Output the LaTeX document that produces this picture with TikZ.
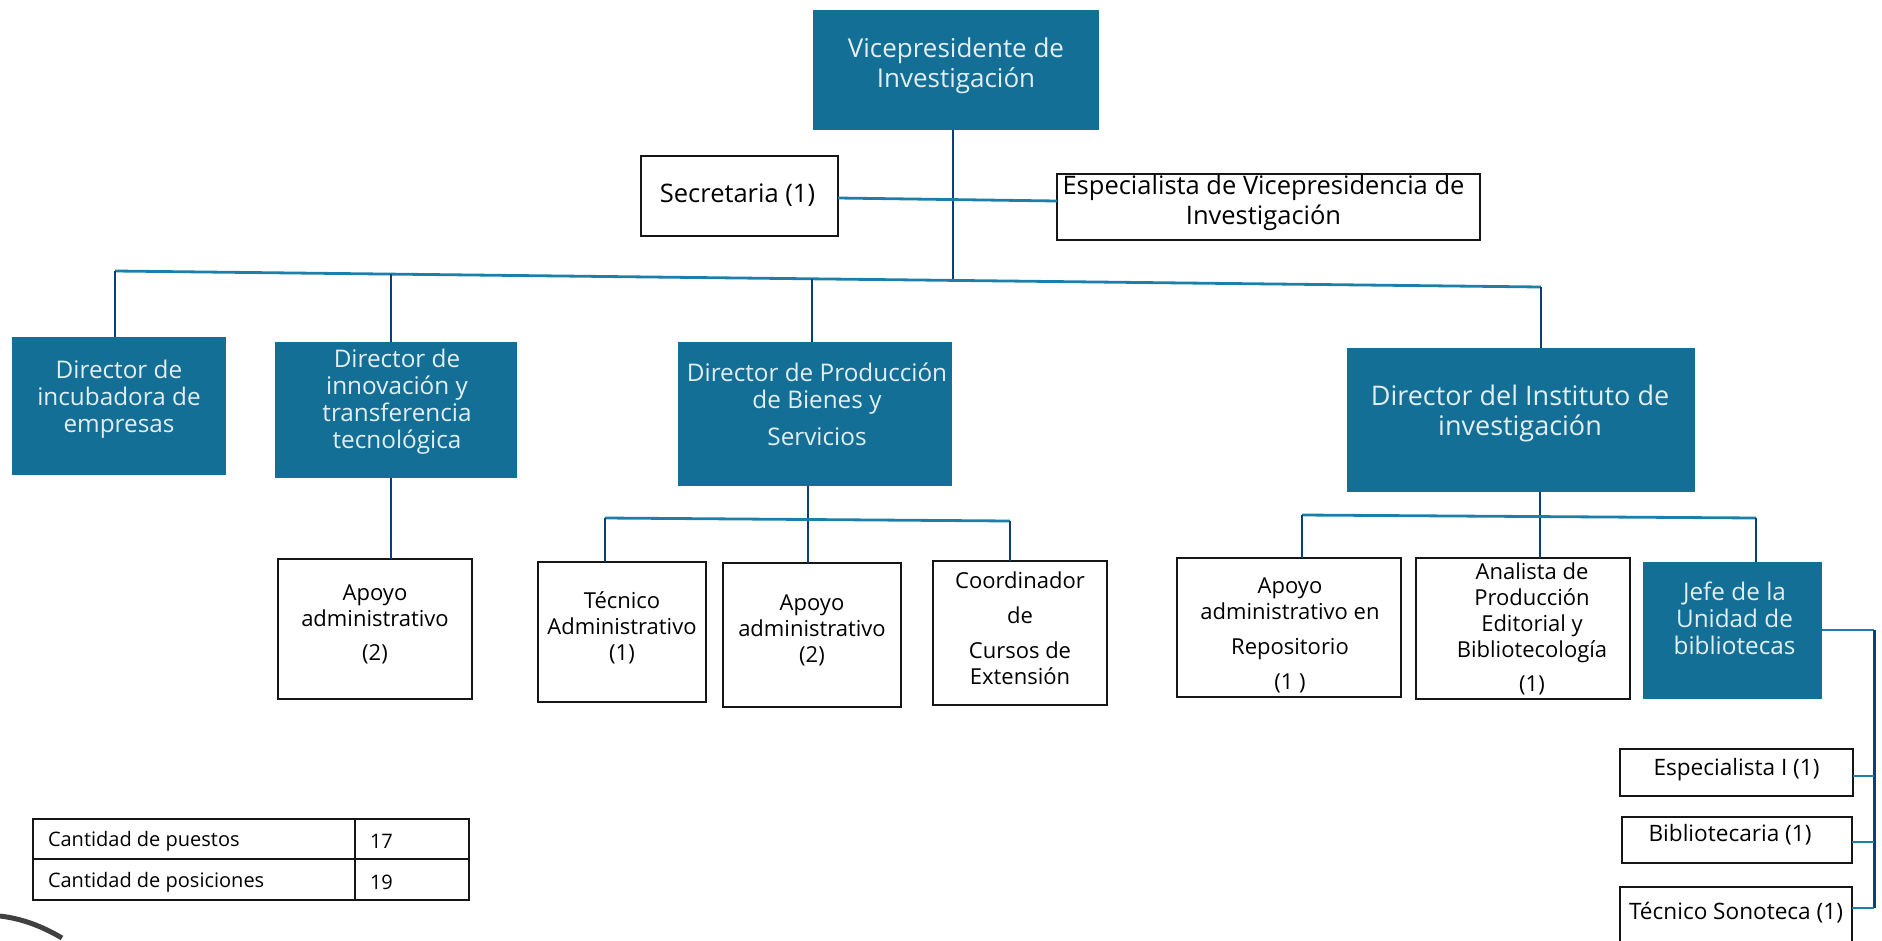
\documentclass[tikz,border=0pt]{standalone}
\usepackage{fontspec}
\setmainfont{Open Sans}
\definecolor{dirblue}{HTML}{136F95}
\definecolor{dirtext}{HTML}{E3EEF3}
\definecolor{navyline}{HTML}{0B3F7A}
\definecolor{tealline}{HTML}{1C7FAA}
\definecolor{inkline}{HTML}{161616}
% #1 = raise, #2 = shift right, #3 = lines
\newcommand{\up}[3]{\hspace*{#2pt}\raisebox{#1pt}[\height][\depth]{\begin{tabular}{@{}c@{}}#3\end{tabular}}\hspace*{-#2pt}}
\newcommand{\cell}[2]{\makebox[#1pt][l]{\hspace*{15pt}\raisebox{-2.5pt}[\height][\depth]{#2}}}
\newcommand{\putbox}[7]{%
  \pgfmathsetmacro{\cxx}{(#3+#5)/2}\pgfmathsetmacro{\cyy}{(#4+#6)/2}%
  \pgfmathsetmacro{\wdd}{#5-#3}\pgfmathsetmacro{\htt}{#6-#4}%
  \node[#2,minimum width=\wdd pt,minimum height=\htt pt] (#1) at (\cxx,\cyy) {#7};}
\tikzset{
  dirbox/.style={fill=dirblue,text=dirtext,inner sep=0pt,outer sep=0pt,font=\fontsize{24.3}{27}\selectfont},
  bigdir/.style={dirbox,font=\fontsize{26}{30}\selectfont},
  hugedir/.style={dirbox,font=\fontsize{27}{30}\selectfont},
  plainbox/.style={draw=inkline,line width=2.8pt,fill=white,inner sep=0pt,outer sep=0pt,font=\fontsize{22}{26}\selectfont},
  widebox/.style={plainbox,font=\fontsize{25.5}{30}\selectfont},
  smallbox/.style={plainbox,font=\fontsize{22.6}{26}\selectfont},
  cellbox/.style={draw=inkline,line width=2pt,inner sep=0pt,outer sep=0pt,font=\fontsize{20}{24}\selectfont},
  vline/.style={draw=navyline,line width=2.4pt},
  hline/.style={draw=tealline,line width=2.8pt},
}
\begin{document}
\begin{tikzpicture}[x=1pt,y=-1pt]
\useasboundingbox (0,0) rectangle (1882,940);
\coordinate (busL) at (115,271);
\coordinate (busR) at (1541,287);
\coordinate (busA) at (391,274);
\coordinate (busB) at (812,279);
\coordinate (busC) at (953,280.5);
\coordinate (sideL) at (838,198);
\coordinate (sideR) at (1057,201);
\coordinate (prodL) at (605,518);
\coordinate (prodM) at (808,519);
\coordinate (prodR) at (1010,521);
\coordinate (instL) at (1302,515);
\coordinate (instM) at (1540,516);
\coordinate (instR) at (1756,518);
\coordinate (spineT) at (1874,630);
\coordinate (spineA) at (1874,776);
\coordinate (spineB) at (1874,842);
\coordinate (spineC) at (1874,908);
\coordinate (stampA) at (0,916);
\coordinate (stampB) at (62,938);
% boxes
\putbox{vp}{bigdir}{813}{10}{1099}{130}{\up{3.5}{0}{Vicepresidente de\\Investigación}}
\putbox{secr}{widebox}{641}{156}{838}{236}{\up{0}{-2}{Secretaria (1)}}
\putbox{espv}{widebox}{1057}{174}{1480}{240}{\up{3.5}{-5}{Especialista de Vicepresidencia de\\Investigación}}
\putbox{inc}{dirbox}{12}{337}{226}{475}{\up{6}{0}{Director de\\incubadora de\\empresas}}
\putbox{innov}{dirbox}{275}{342}{517}{478}{\up{7}{1}{Director de\\innovación y\\transferencia\\tecnológica}}
\putbox{prod}{dirbox}{678}{342}{952}{486}{\up{6}{2}{Director de Producción\\de Bienes y\\[10pt]Servicios}}
\putbox{inst}{hugedir}{1347}{348}{1695}{492}{\up{6}{-1}{Director del Instituto de\\investigación}}
\putbox{apoyo}{plainbox}{278}{559}{472}{699}{\up{4}{0}{Apoyo\\administrativo\\[8pt](2)}}
\putbox{tecn}{plainbox}{538}{562}{706}{702}{\up{3}{0}{Técnico\\Administrativo\\(1)}}
\putbox{apoyob}{plainbox}{723}{563}{901}{707}{\up{4}{0}{Apoyo\\administrativo\\(2)}}
\putbox{coord}{plainbox}{933}{561}{1107}{705}{\up{2}{0}{Coordinador\\[9pt]de\\[9pt]Cursos de\\Extensión}}
\putbox{repo}{plainbox}{1177}{558}{1401}{697}{\up{-8.5}{1}{Apoyo\\administrativo en\\[9pt]Repositorio\\[9pt](1 )}}
\putbox{anal}{plainbox}{1416}{558}{1630}{699}{\up{-1.5}{9}{Analista de\\Producción\\Editorial y\\Bibliotecología\\[8pt](1)}}
\putbox{jefe}{dirbox}{1643}{562}{1822}{699}{\up{8}{2}{Jefe de la\\Unidad de\\bibliotecas}}
\putbox{espi}{smallbox}{1620}{749}{1853}{796}{\up{2.5}{0}{Especialista I (1)}}
\putbox{bibl}{smallbox}{1622}{817}{1852}{863}{\up{3.5}{-7}{Bibliotecaria (1)}}
\putbox{sono}{smallbox}{1620}{887}{1852}{950}{\up{4.5}{0}{Técnico Sonoteca (1)}}
\putbox{cpu}{cellbox}{33}{818.5}{355}{859}{\cell{322}{Cantidad de puestos}}
\putbox{cpun}{cellbox}{355}{818.5}{469}{859}{\cell{114}{17}}
\putbox{cpo}{cellbox}{33}{859}{355}{900}{\cell{322}{Cantidad de posiciones}}
\putbox{cpon}{cellbox}{355}{859}{469}{900}{\cell{114}{19}}
% lines
\draw[vline] (busC |- vp.south) -- (busC);
\draw[hline] (sideL) -- (sideR);
\draw[hline] (busL) -- (busR);
\draw[vline] (busL) -- (busL |- inc.north);
\draw[vline] (busA) -- (busA |- innov.north);
\draw[vline] (busB) -- (busB |- prod.north);
\draw[vline] (busR) -- (busR |- inst.north);
\draw[vline] (busA |- innov.south) -- (busA |- apoyo.north);
\draw[vline] (prodM |- prod.south) -- (prodM |- apoyob.north);
\draw[hline] (prodL) -- (prodR);
\draw[vline] (prodL) -- (prodL |- tecn.north);
\draw[vline] (prodR) -- (prodR |- coord.north);
\draw[vline] (instM |- inst.south) -- (instM |- anal.north);
\draw[hline] (instL) -- (instR);
\draw[vline] (instL) -- (instL |- repo.north);
\draw[vline] (instR) -- (instR |- jefe.north);
\draw[hline] (jefe.east |- spineT) -- (spineT);
\draw[navyline,line width=3pt] (spineT) -- (spineC);
\draw[hline] (espi.east |- spineA) -- (spineA);
\draw[hline] (bibl.east |- spineB) -- (spineB);
\draw[hline] (sono.east |- spineC) -- (spineC);
% stamp fragment
\draw[black!75,line width=5pt] (stampA) .. controls (25,919) and (45,928) .. (stampB);
\end{tikzpicture}
\end{document}
